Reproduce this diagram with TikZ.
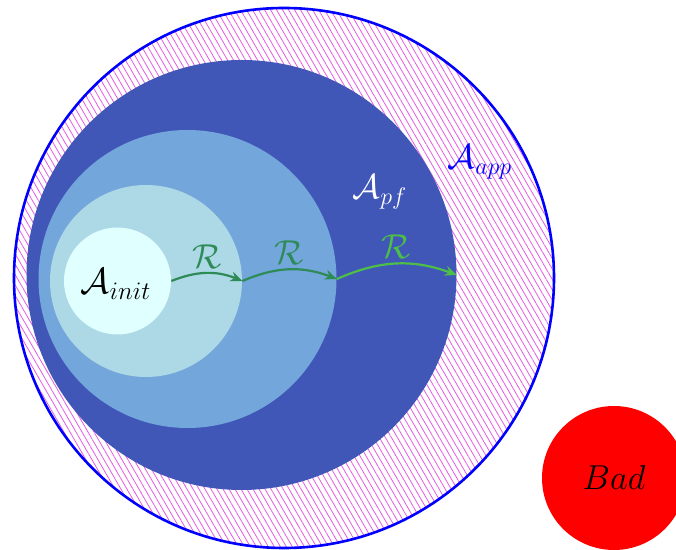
\documentclass[tikz,border=0pt]{standalone}
\usepackage{amsmath}
\usetikzlibrary{arrows.meta, patterns.meta, positioning}

\definecolor{pfblue}{RGB}{65,87,184}
\definecolor{midblue}{RGB}{115,166,219}
\definecolor{reachblue}{RGB}{173,216,230}
\definecolor{initcyan}{RGB}{224,255,255}
\definecolor{arrgreen}{RGB}{46,139,87}
\definecolor{lightarrgreen}{RGB}{77,190,72}
\definecolor{hatchpink}{RGB}{228,90,228}

\tikzset{
  region/.style={circle, draw=none, inner sep=0pt},
  reacharrow/.style={-{Stealth[length=6pt, width=5pt]}, line width=1.1pt, bend left=22},
  lbl/.style={font=\LARGE}
}

\begin{document}
\begin{tikzpicture}[x=0.5pt, y=-0.5pt]
    \useasboundingbox (0,0) rectangle (676,550);

    % Approximation set (hatched)
    \node[region, draw=blue, line width=1.3pt, minimum size=270pt,
          pattern={Lines[angle=-60, distance=2.6pt, line width=0.4pt]}, pattern color=hatchpink]
          (app) at (284,278) {};

    % Nested regions
    \node[region, fill=pfblue, minimum size=215pt] (pf) at (241.5,275) {};
    \node[region, fill=midblue, minimum size=149pt] (mid) at (187.5,279) {};
    \node[region, fill=reachblue, minimum size=96pt] (reach) at (146,281) {};
    \node[region, fill=initcyan, minimum size=53.5pt] (init) at (117.5,281) {};

    % Bad set
    \node[region, fill=red, minimum size=72pt] (bad) at (614,478) {};

    % Labels
    \node[lbl, scale=1.05] (initlbl) at (116,284) {$\mathcal{A}_{init}$};
    \node[lbl, white] (pflbl) at (380,192) {$\mathcal{A}_{pf}$};
    \node[lbl, blue] (applbl) at (480,162) {$\mathcal{A}_{app}$};
    \node[lbl] (badlbl) at (bad.center) {$Bad$};

    % Reachability steps
    \draw[reacharrow, arrgreen] (init.east) to node[above, lbl, inner sep=2pt] {$\mathcal{R}$} (reach.east);
    \draw[reacharrow, arrgreen] (reach.east) to node[above, lbl, inner sep=2pt] {$\mathcal{R}$} (mid.east);
    \draw[reacharrow, lightarrgreen] (mid.east) to node[above, lbl, inner sep=2pt] {$\mathcal{R}$} (pf.east);
\end{tikzpicture}
\end{document}
